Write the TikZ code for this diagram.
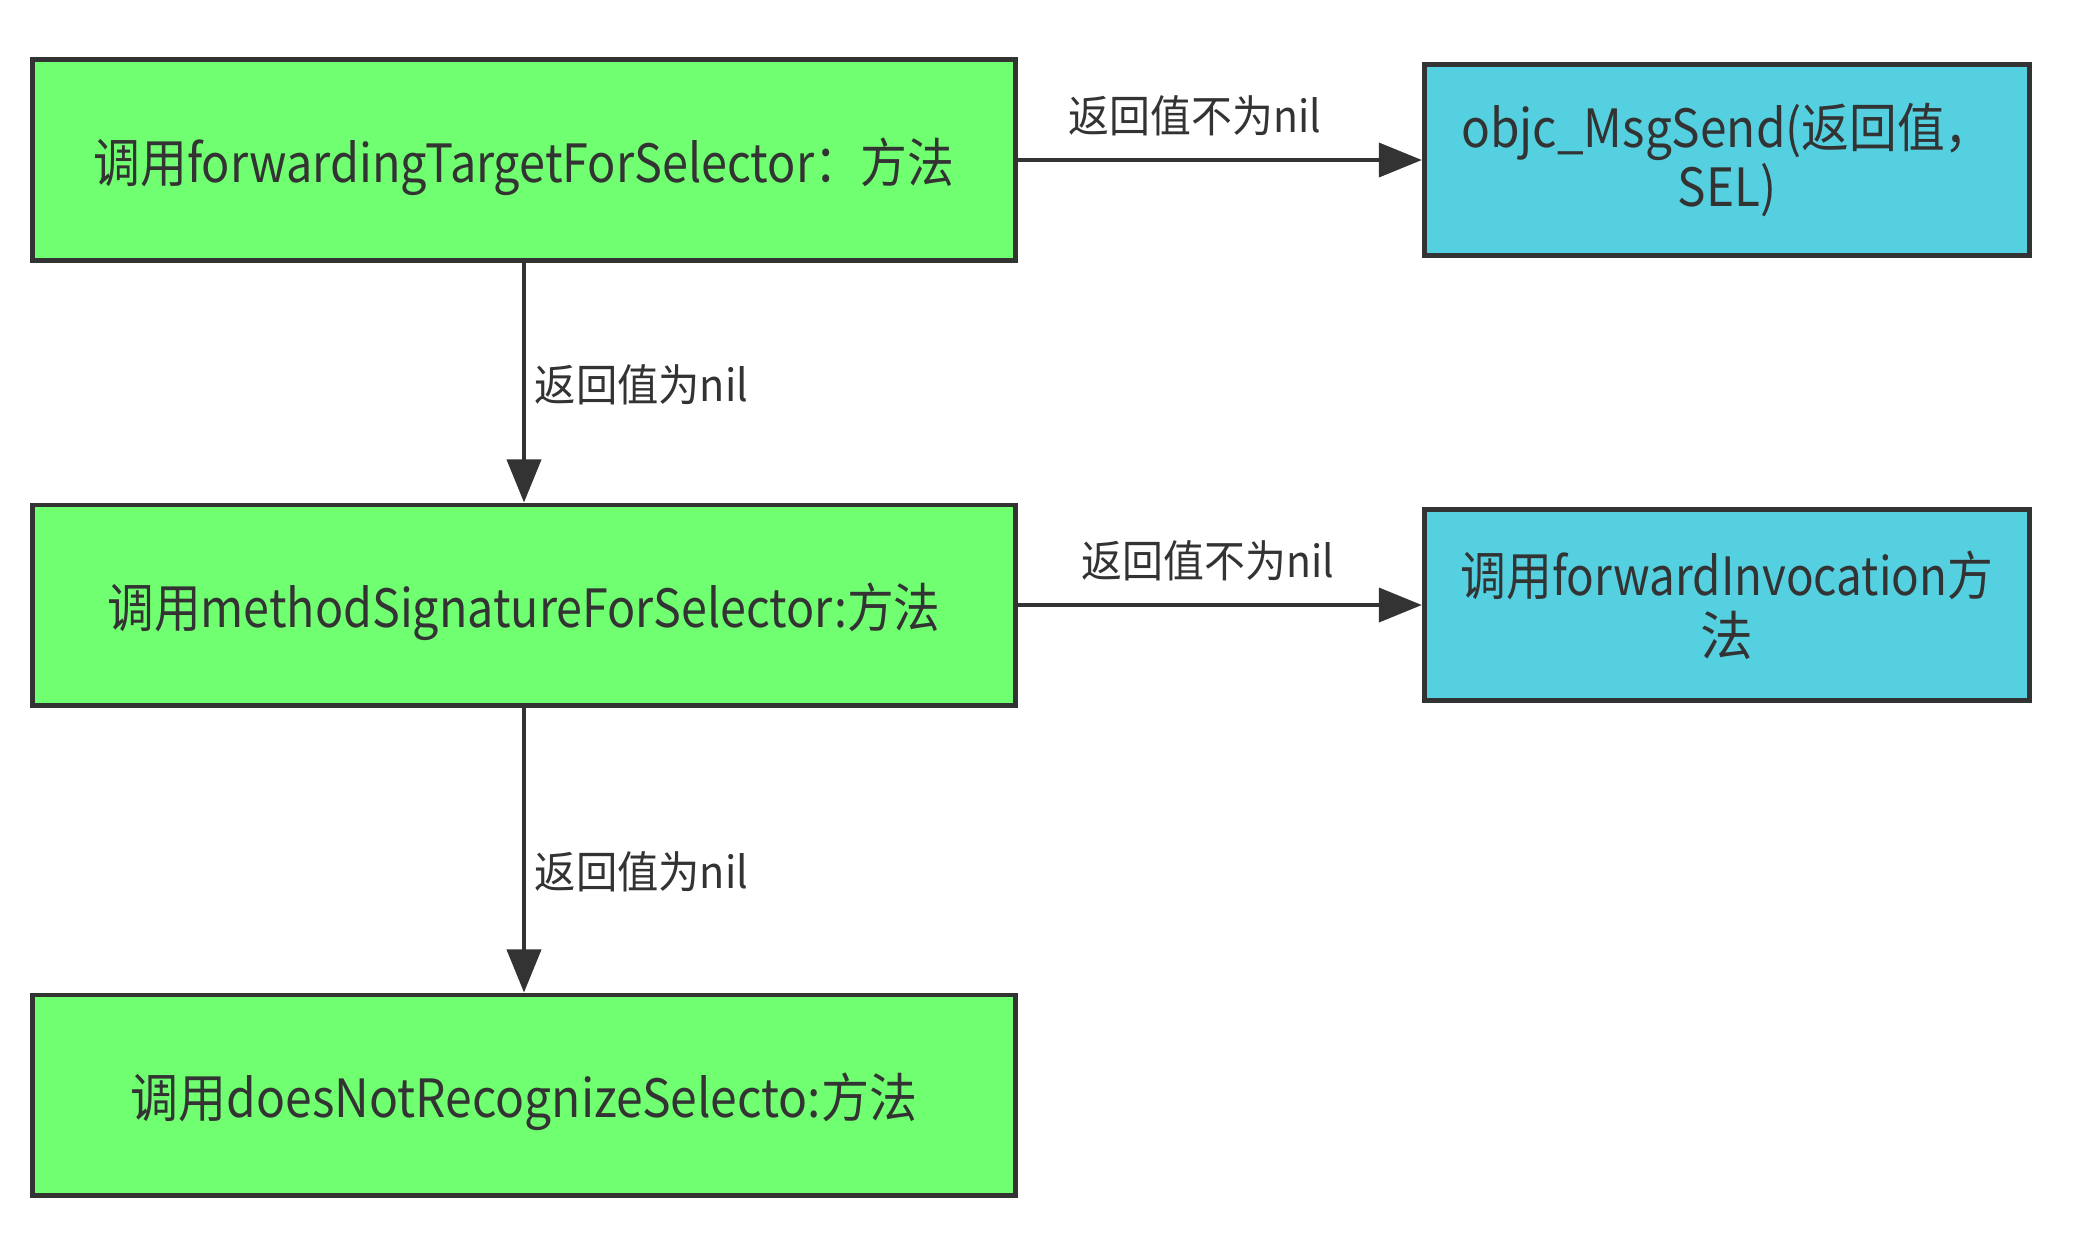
\documentclass[tikz,border=0pt]{standalone}
\usepackage{fontspec}
\usepackage{graphicx}
\setmainfont{Noto Sans CJK SC}
\usetikzlibrary{arrows.meta}
\definecolor{boxgreen}{HTML}{70FF70}
\definecolor{boxblue}{HTML}{55D0E0}
\definecolor{ink}{HTML}{333333}
\newcommand{\narrowtxt}[2]{\scalebox{#1}[1]{#2}}
\newcommand{\gtxt}[2]{\raisebox{-0.07cm}[\height][\depth]{\scalebox{#1}[1]{#2}}}
\tikzset{
  greenbox/.style={draw=ink, line width=1.4pt, fill=boxgreen, minimum width=9.82cm, minimum height=2.0cm, inner sep=0pt, font=\fontsize{15}{18}\selectfont, text=ink},
  bluebox/.style={draw=ink, line width=1.4pt, fill=boxblue, minimum width=6.05cm, minimum height=1.91cm, inner sep=0pt, align=center, font=\fontsize{15}{17}\selectfont, text=ink},
  conn/.style={draw=ink, line width=1.1pt, -{Triangle[length=0.43cm, width=0.34cm]}},
  lbl/.style={text=ink, font=\fontsize{12.5}{15}\selectfont, inner sep=0pt}
}
\begin{document}
\begin{tikzpicture}[x=0.01cm, y=-0.01cm]
\useasboundingbox (0,0) rectangle (2094,1232);
\node[greenbox] (b1) at (524,160) {\gtxt{0.887}{调用forwardingTargetForSelector：方法}};
\node[bluebox] (c1) at (1727,160) {\narrowtxt{0.905}{objc\_MsgSend(返回值，}\\\narrowtxt{0.905}{SEL)}};
\node[greenbox] (b2) at (524,605) {\gtxt{0.884}{调用methodSignatureForSelector:方法}};
\node[bluebox] (c2) at (1727,605) {\narrowtxt{0.868}{调用forwardInvocation方}\\法};
\node[greenbox] (b3) at (524,1095) {\gtxt{0.91}{调用doesNotRecognizeSelecto:方法}};
\draw[conn] (b1.east) -- (c1.west);
\draw[conn] (b2.east) -- (c2.west);
\draw[conn] (b1.south) -- (b2.north);
\draw[conn] (b2.south) -- (b3.north);
\node[lbl] (l1) at (1195,116) {\narrowtxt{0.93}{返回值不为nil}};
\node[lbl] (l2) at (1208,561) {\narrowtxt{0.93}{返回值不为nil}};
\node[lbl, anchor=west] (l3) at (534,385) {\narrowtxt{0.94}{返回值为nil}};
\node[lbl, anchor=west] (l4) at (534,872) {\narrowtxt{0.94}{返回值为nil}};
\end{tikzpicture}
\end{document}
